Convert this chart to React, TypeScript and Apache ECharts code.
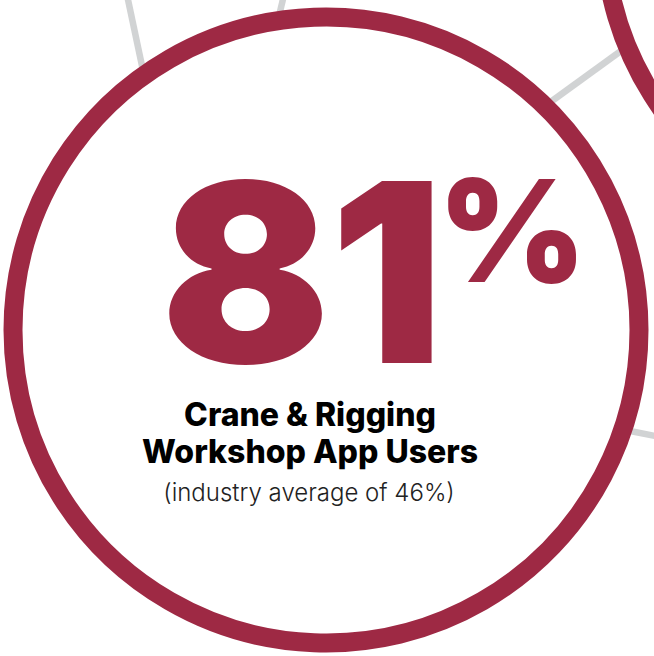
import React, { useEffect, useRef } from "react";
import * as echarts from "echarts";

const statValue = [81];
const statUnit = ["%"];
const titleLines = ["Crane & Rigging", "Workshop App Users"];
const industryAverage = [46];

const RED = "#9e2944";
const GRAY = "#d1d3d4";

export default function App() {
  const ref = useRef<HTMLDivElement>(null);
  useEffect(() => {
    const chart = echarts.init(ref.current!, null, { renderer: "svg" });
    const lineStyle = { stroke: GRAY, lineWidth: 6.5 };
    chart.setOption({
      animation: false,
      backgroundColor: "#ffffff",
      graphic: [
        { type: "line", shape: { x1: 127, y1: -5, x2: 145, y2: 80 }, style: lineStyle },
        { type: "line", shape: { x1: 284, y1: -5, x2: 278, y2: 20 }, style: lineStyle },
        { type: "line", shape: { x1: 545, y1: 106, x2: 625, y2: 48 }, style: lineStyle },
        { type: "line", shape: { x1: 625, y1: 430, x2: 660, y2: 437 }, style: lineStyle },
        {
          type: "circle",
          shape: { cx: 917, cy: -72, r: 313 },
          style: { fill: "none", stroke: RED, lineWidth: 19 },
        },
        {
          type: "circle",
          shape: { cx: 326, cy: 330, r: 313 },
          style: { fill: "#ffffff", stroke: RED, lineWidth: 19 },
        },
        {
          type: "text",
          x: 302,
          y: 272,
          style: {
            text: String(statValue[0]),
            font: "900 250px Inter",
            lineHeight: 190,
            fill: RED,
            textAlign: "center",
            textVerticalAlign: "middle",
          },
        },
        {
          type: "text",
          x: 512,
          y: 230,
          style: {
            text: statUnit[0],
            font: "900 142px Inter",
            lineHeight: 110,
            fill: RED,
            textAlign: "center",
            textVerticalAlign: "middle",
          },
        },
        {
          type: "text",
          x: 310,
          y: 414,
          style: {
            text: titleLines[0],
            font: "800 32px Inter",
            lineHeight: 34,
            fill: "#000000",
            textAlign: "center",
            textVerticalAlign: "middle",
          },
        },
        {
          type: "text",
          x: 310,
          y: 451,
          style: {
            text: titleLines[1],
            font: "800 32px Inter",
            lineHeight: 34,
            fill: "#000000",
            textAlign: "center",
            textVerticalAlign: "middle",
          },
        },
        {
          type: "text",
          x: 309,
          y: 492,
          style: {
            text: `(industry average of ${industryAverage[0]}%)`,
            font: "300 24px Inter",
            fill: "#222222",
            textAlign: "center",
            textVerticalAlign: "middle",
          },
        },
      ],
    });
    return () => chart.dispose();
  }, []);
  return (
    <div
      ref={ref}
      style={{ position: "fixed", left: 0, top: 0, width: 654, height: 656 }}
    />
  );
}
